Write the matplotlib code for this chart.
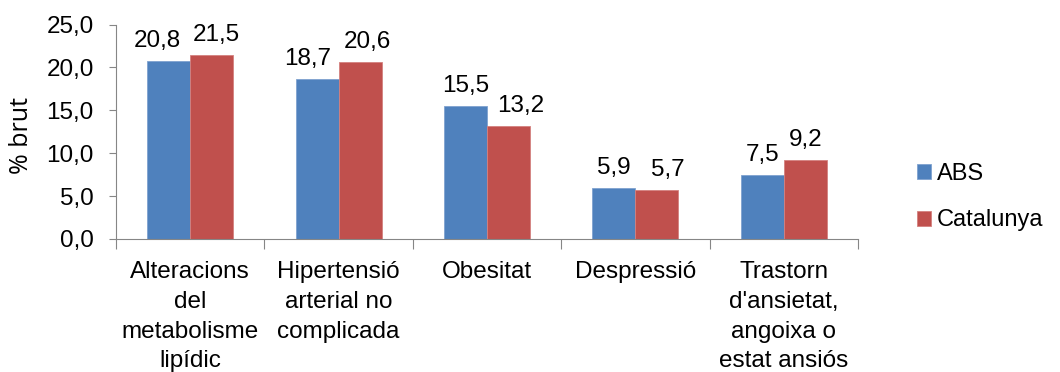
import matplotlib.pyplot as plt
import numpy as np

categories = ["Alteracions\ndel\nmetabolisme\nlipídic",
              "Hipertensió\narterial no\ncomplicada",
              "Obesitat",
              "Despressió",
              "Trastorn\nd'ansietat,\nangoixa o\nestat ansiós"]
abs_vals = [20.8, 18.7, 15.5, 5.9, 7.5]
cat_vals = [21.5, 20.6, 13.2, 5.7, 9.2]
yticks = [0, 5, 10, 15, 20, 25]

# sideways nudge (points) for value labels so neighbours don't collide
abs_nudge = [-8, -7, 0, 0, 0]
cat_nudge = [3, 5, 9, 8, 0]

plt.rcParams['font.family'] = ['Liberation Sans', 'DejaVu Sans']

fig = plt.figure(figsize=(10.6, 3.72), dpi=100)
ax = fig.add_axes([116 / 1060, 1 - 239 / 372, (858 - 116) / 1060, (239 - 24.5) / 372])

x = np.arange(len(categories))
w = 0.29
b1 = ax.bar(x - w / 2, abs_vals, w, color='#4F81BD', edgecolor='#7FA2CF', linewidth=0.6, label='ABS')
b2 = ax.bar(x + w / 2, cat_vals, w, color='#C0504D', edgecolor='#D4817F', linewidth=0.6, label='Catalunya')

for bars, vals, nudge in [(b1, abs_vals, abs_nudge), (b2, cat_vals, cat_nudge)]:
    for r, v, dx in zip(bars, vals, nudge):
        ax.annotate(f"{v:.1f}".replace('.', ','), (r.get_x() + r.get_width() / 2, v),
                    xytext=(dx, 10), textcoords='offset points',
                    ha='center', va='baseline', fontsize=17.5)

ax.set_xlim(-0.5, len(categories) - 0.5)
ax.set_ylim(0, 25)
ax.set_yticks(yticks)
ax.set_yticklabels([f"{t:.1f}".replace('.', ',') for t in yticks], fontsize=17.5)
ax.tick_params(axis='y', length=5, pad=11, color='#868686', width=0.8)

ax.set_xticks(x)
ax.set_xticklabels(categories, fontsize=17.5, linespacing=1.45, va='top')
ax.set_xticks(np.arange(-0.5, len(categories)), minor=True)
ax.tick_params(axis='x', which='major', length=0, pad=16)
ax.tick_params(axis='x', which='minor', length=7, color='#868686', width=0.8)

for s in ['top', 'right']:
    ax.spines[s].set_visible(False)
for s in ['left', 'bottom']:
    ax.spines[s].set_color('#868686')
    ax.spines[s].set_linewidth(0.8)

fig.text(22 / 1060, 1 - 135 / 372, "% brut", rotation=90, ha='center', va='center',
         fontsize=18, family=['Open Sans', 'DejaVu Sans'])

fig.legend(loc='center left', bbox_to_anchor=(917 / 1060, 1 - 197 / 372),
           frameon=False, fontsize=17, handlelength=0.6, handleheight=0.6,
           handletextpad=0.25, labelspacing=1.05, borderpad=0, borderaxespad=0)

fig.savefig("out.png", dpi=100)
